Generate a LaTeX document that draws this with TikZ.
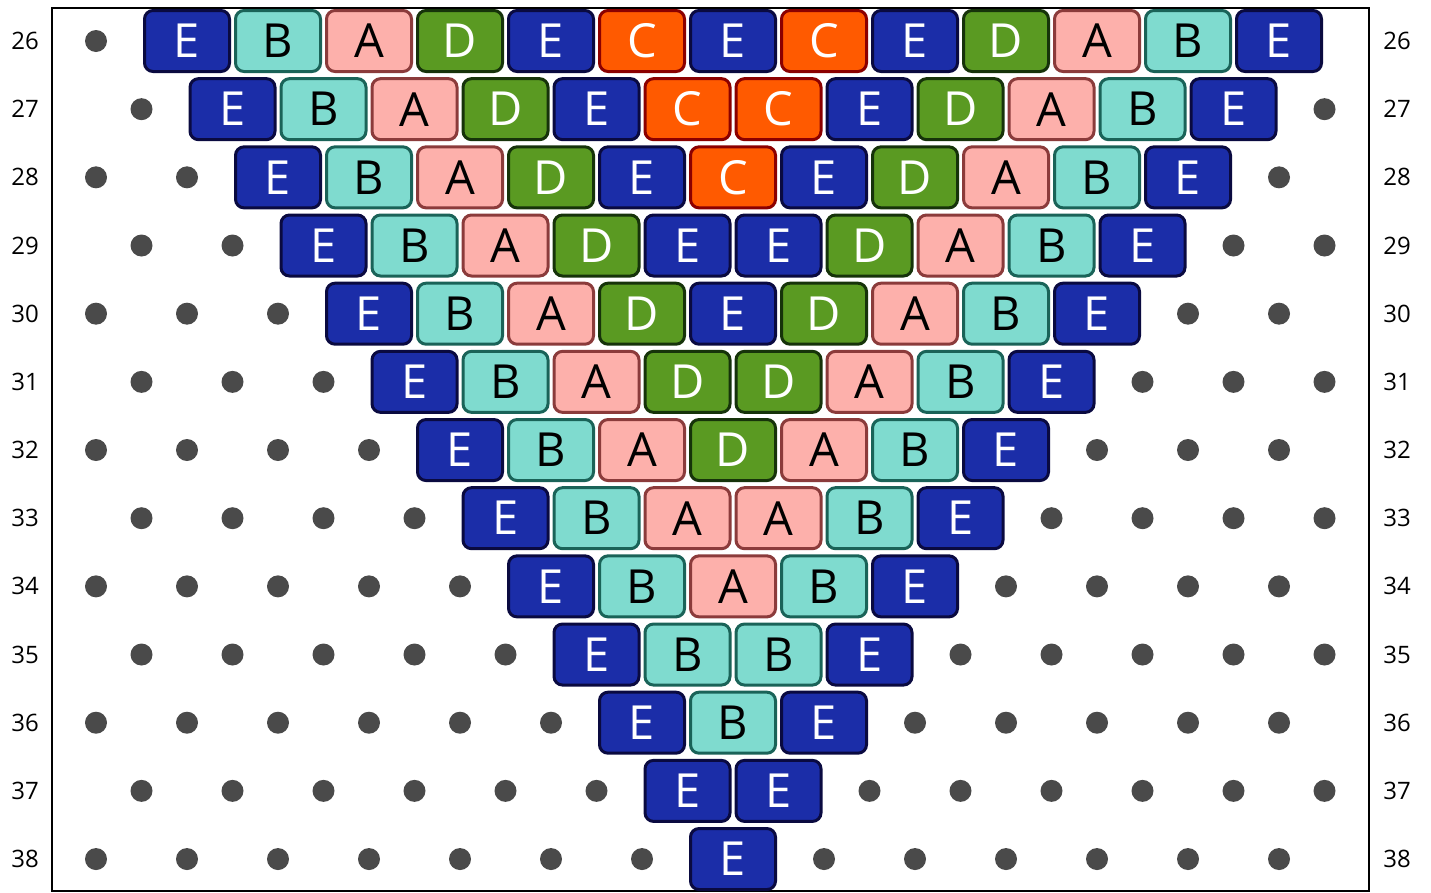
\documentclass[tikz,border=0pt]{standalone}
\usepackage{fontspec}
\setmainfont{Open Sans}
\definecolor{colE}{HTML}{1B2DA8}\definecolor{bdE}{HTML}{0A0A40}\definecolor{txE}{HTML}{FFFFFF}
\definecolor{colB}{HTML}{7FDBCF}\definecolor{bdB}{HTML}{1A6358}\definecolor{txB}{HTML}{000000}
\definecolor{colA}{HTML}{FDB0AB}\definecolor{bdA}{HTML}{8B3B3B}\definecolor{txA}{HTML}{000000}
\definecolor{colD}{HTML}{5A9A22}\definecolor{bdD}{HTML}{16330A}\definecolor{txD}{HTML}{FFFFFF}
\definecolor{colC}{HTML}{FF5A00}\definecolor{bdC}{HTML}{8B0000}\definecolor{txC}{HTML}{FFFFFF}
\definecolor{dotgray}{HTML}{4A4A4A}
\newcommand\tilerow[2]{%
  \foreach \c [count=\i from 0] in {#2} {%
    \node[tile=\c] (b#1-\i) at ({96+45.5*(2+#1+2*\i)}, {-(41+68.17*#1)}) {\c};%
  }%
}
\begin{document}
\begin{tikzpicture}[x=1pt,y=1pt,
  tile/.style={draw=bd#1, fill=col#1, text=tx#1, line width=3pt, rounded corners=8.5pt,
    minimum width=85pt, minimum height=61pt, inner sep=0pt, font=\fontsize{47}{47}\selectfont},
  dotn/.style={circle, fill=dotgray, minimum size=22pt, inner sep=0pt},
  lbl/.style={font=\fontsize{24}{24}\selectfont, inner sep=0pt}]
\useasboundingbox (0,0) rectangle (1431,-892);
\draw[line width=2pt] (51.5,-7.5) rectangle (1369,-891);
% row labels and dots
\foreach \r in {0,...,12} {
  \pgfmathtruncatemacro\num{26+\r}
  \pgfmathsetmacro\yy{-(41+68.17*\r)}
  \node[lbl] (l\r) at (25,\yy) {\num};
  \node[lbl] (r\r) at (1397,\yy) {\num};
  \pgfmathtruncatemacro\p{mod(\r,2)}
  \pgfmathtruncatemacro\pn{\p+2}
  \foreach \k in {\p,\pn,...,\r} {
    \ifnum\k>\r\else
      \node[dotn] (d\r-\k) at ({96+45.5*\k},\yy) {};
      \pgfmathtruncatemacro\m{28-\k}
      \ifnum\m<28
        \node[dotn] (d\r-\m) at ({96+45.5*\m},\yy) {};
      \fi
    \fi
  }
}
\tilerow{0}{E,B,A,D,E,C,E,C,E,D,A,B,E}
\tilerow{1}{E,B,A,D,E,C,C,E,D,A,B,E}
\tilerow{2}{E,B,A,D,E,C,E,D,A,B,E}
\tilerow{3}{E,B,A,D,E,E,D,A,B,E}
\tilerow{4}{E,B,A,D,E,D,A,B,E}
\tilerow{5}{E,B,A,D,D,A,B,E}
\tilerow{6}{E,B,A,D,A,B,E}
\tilerow{7}{E,B,A,A,B,E}
\tilerow{8}{E,B,A,B,E}
\tilerow{9}{E,B,B,E}
\tilerow{10}{E,B,E}
\tilerow{11}{E,E}
\tilerow{12}{E}
\end{tikzpicture}
\end{document}
